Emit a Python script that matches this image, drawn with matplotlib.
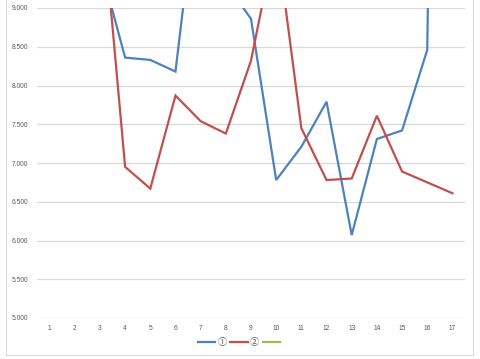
import numpy as np
import matplotlib.pyplot as plt
from matplotlib.ticker import FormatStrFormatter
from matplotlib.lines import Line2D

# categories on the x axis
cats = ["1", "2", "3", "4", "5", "6", "7", "8", "9", "10",
        "11", "12", "13", "14", "15", "16", "17"]

# series values (nan = no point)
s1 = [np.nan, np.nan, 9.57, 8.36, 8.33, 8.18, 10.9, 9.32, 8.86, 6.78,
      7.21, 7.79, 6.07, 7.31, 7.42, 8.46, 30.0]
s2 = [np.nan, np.nan, 10.56, 6.95, 6.67, 7.87, 7.54, 7.38, 8.32, 9.93,
      7.45, 6.78, 6.80, 7.61, 6.89, 6.75, 6.61]
s3 = [np.nan] * 17

labels = ["\u2460", "\u2461", ""]
yticks = [5.0, 5.5, 6.0, 6.5, 7.0, 7.5, 8.0, 8.5, 9.0]

plt.rcParams['font.family'] = ['Liberation Sans', 'Noto Sans CJK JP', 'DejaVu Sans']

fig = plt.figure(figsize=(4.8, 3.59), dpi=100)
ax = fig.add_axes([37/480, 1-318/359, 428/480, 310/359])

x = np.arange(len(cats))
blue = "#4F81BD"
red = "#C0504D"
green = "#9BBB59"

ax.plot(x, s1, color=blue, linewidth=1.6, solid_joinstyle='miter')
ax.plot(x, s2, color=red, linewidth=1.6, solid_joinstyle='miter')
ax.plot(x, s3, color=green, linewidth=1.6)

ax.set_xlim(-0.5, len(cats) - 0.5)
ax.set_ylim(5, 9)
ax.set_xticks(x)
ax.set_xticklabels(cats)
ax.set_yticks(yticks)
ax.yaxis.set_major_formatter(FormatStrFormatter('%.3f'))

# gridlines only, no frame
for sp in ax.spines.values():
    sp.set_visible(False)
ax.grid(axis='y', color='#D9D9D9', linewidth=0.9)
ax.set_axisbelow(True)
ax.tick_params(length=0, labelsize=4.8, colors='#595959')
ax.tick_params(axis='y', pad=6.5)
ax.tick_params(axis='x', pad=5)

# legend below the plot
handles = [Line2D([], [], color=c, linewidth=1.6) for c in (blue, red, green)]
fig.legend(handles, labels, loc='center', bbox_to_anchor=(240/480, 1-343/359),
           ncol=3, frameon=False, fontsize=6.5, handlelength=1.95,
           handletextpad=0.25, columnspacing=0.4, labelcolor='#595959')

# light chart border (top edge is cut off)
border = plt.Rectangle((6/480, 1-355/359), 467/480, 360/359, transform=fig.transFigure,
                       fill=False, edgecolor='#D9D9D9', linewidth=0.8)
fig.patches.append(border)

plt.savefig("out.png", dpi=100)
